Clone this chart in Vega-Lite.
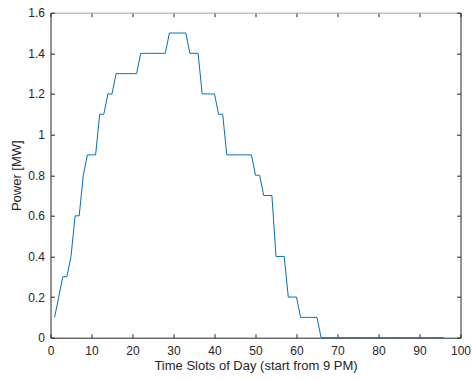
{
  "$schema": "https://vega.github.io/schema/vega-lite/v6.json",
  "autosize": {"type": "none"},
  "width": 410,
  "height": 325,
  "padding": {"left": 50.5, "top": 12.7, "right": 11.5, "bottom": 43.3},
  "background": "white",
  "config": {
    "view": {"stroke": null},
    "font": "Liberation Sans",
    "axis": {
      "grid": false,
      "domainColor": "#262626",
      "tickColor": "#262626",
      "labelColor": "#262626",
      "titleColor": "#262626",
      "labelFont": "Liberation Sans",
      "titleFont": "Liberation Sans",
      "labelFontSize": 12,
      "titleFontSize": 13,
      "titleFontWeight": "normal",
      "tickSize": -4
    }
  },
  "data": {"values": [
    {"t": 1, "p": 0.1}, {"t": 2, "p": 0.2}, {"t": 3, "p": 0.3}, {"t": 4, "p": 0.3},
    {"t": 5, "p": 0.4}, {"t": 6, "p": 0.6}, {"t": 7, "p": 0.6}, {"t": 8, "p": 0.8},
    {"t": 9, "p": 0.9}, {"t": 10, "p": 0.9}, {"t": 11, "p": 0.9}, {"t": 12, "p": 1.1},
    {"t": 13, "p": 1.1}, {"t": 14, "p": 1.2}, {"t": 15, "p": 1.2}, {"t": 16, "p": 1.3},
    {"t": 17, "p": 1.3}, {"t": 18, "p": 1.3}, {"t": 19, "p": 1.3}, {"t": 20, "p": 1.3},
    {"t": 21, "p": 1.3}, {"t": 22, "p": 1.4}, {"t": 23, "p": 1.4}, {"t": 24, "p": 1.4},
    {"t": 25, "p": 1.4}, {"t": 26, "p": 1.4}, {"t": 27, "p": 1.4}, {"t": 28, "p": 1.4},
    {"t": 29, "p": 1.5}, {"t": 30, "p": 1.5}, {"t": 31, "p": 1.5}, {"t": 32, "p": 1.5},
    {"t": 33, "p": 1.5}, {"t": 34, "p": 1.4}, {"t": 35, "p": 1.4}, {"t": 36, "p": 1.4},
    {"t": 37, "p": 1.2}, {"t": 38, "p": 1.2}, {"t": 39, "p": 1.2}, {"t": 40, "p": 1.2},
    {"t": 41, "p": 1.1}, {"t": 42, "p": 1.1}, {"t": 43, "p": 0.9}, {"t": 44, "p": 0.9},
    {"t": 45, "p": 0.9}, {"t": 46, "p": 0.9}, {"t": 47, "p": 0.9}, {"t": 48, "p": 0.9},
    {"t": 49, "p": 0.9}, {"t": 50, "p": 0.8}, {"t": 51, "p": 0.8}, {"t": 52, "p": 0.7},
    {"t": 53, "p": 0.7}, {"t": 54, "p": 0.7}, {"t": 55, "p": 0.4}, {"t": 56, "p": 0.4},
    {"t": 57, "p": 0.4}, {"t": 58, "p": 0.2}, {"t": 59, "p": 0.2}, {"t": 60, "p": 0.2},
    {"t": 61, "p": 0.1}, {"t": 62, "p": 0.1}, {"t": 63, "p": 0.1}, {"t": 64, "p": 0.1},
    {"t": 65, "p": 0.1}, {"t": 66, "p": 0}, {"t": 67, "p": 0}, {"t": 68, "p": 0},
    {"t": 69, "p": 0}, {"t": 70, "p": 0}, {"t": 71, "p": 0}, {"t": 72, "p": 0},
    {"t": 73, "p": 0}, {"t": 74, "p": 0}, {"t": 75, "p": 0}, {"t": 76, "p": 0},
    {"t": 77, "p": 0}, {"t": 78, "p": 0}, {"t": 79, "p": 0}, {"t": 80, "p": 0},
    {"t": 81, "p": 0}, {"t": 82, "p": 0}, {"t": 83, "p": 0}, {"t": 84, "p": 0},
    {"t": 85, "p": 0}, {"t": 86, "p": 0}, {"t": 87, "p": 0}, {"t": 88, "p": 0},
    {"t": 89, "p": 0}, {"t": 90, "p": 0}, {"t": 91, "p": 0}, {"t": 92, "p": 0},
    {"t": 93, "p": 0}, {"t": 94, "p": 0}, {"t": 95, "p": 0}, {"t": 96, "p": 0}
  ]},
  "layer": [
    {
      "mark": {"type": "line", "opacity": 0},
      "encoding": {
        "x": {
          "field": "t", "type": "quantitative",
          "scale": {"domain": [0, 100], "nice": false, "zero": false},
          "axis": {"orient": "top", "values": [0,10,20,30,40,50,60,70,80,90,100], "labels": false, "title": null, "domainColor": "#a6a6a6", "tickColor": "#262626"}
        },
        "y": {
          "field": "p", "type": "quantitative",
          "scale": {"domain": [0, 1.6], "nice": false},
          "axis": {"orient": "right", "values": [0,0.2,0.4,0.6,0.8,1,1.2,1.4,1.6], "labels": false, "title": null}
        }
      }
    },
    {
      "mark": {"type": "line", "color": "#0072BD", "strokeWidth": 1},
      "encoding": {
        "x": {
          "field": "t", "type": "quantitative",
          "scale": {"domain": [0, 100], "nice": false, "zero": false},
          "axis": {"orient": "bottom", "values": [0,10,20,30,40,50,60,70,80,90,100], "title": "Time Slots of Day (start from 9 PM)", "labelPadding": 12, "titlePadding": 3, "labelFlush": false}
        },
        "y": {
          "field": "p", "type": "quantitative",
          "scale": {"domain": [0, 1.6], "nice": false},
          "axis": {"orient": "left", "values": [0,0.2,0.4,0.6,0.8,1,1.2,1.4,1.6], "format": "~g", "title": "Power [MW]", "labelPadding": 10, "titlePadding": 4, "labelFlush": false}
        }
      }
    }
  ],
  "resolve": {"axis": {"x": "independent", "y": "independent"}}
}
